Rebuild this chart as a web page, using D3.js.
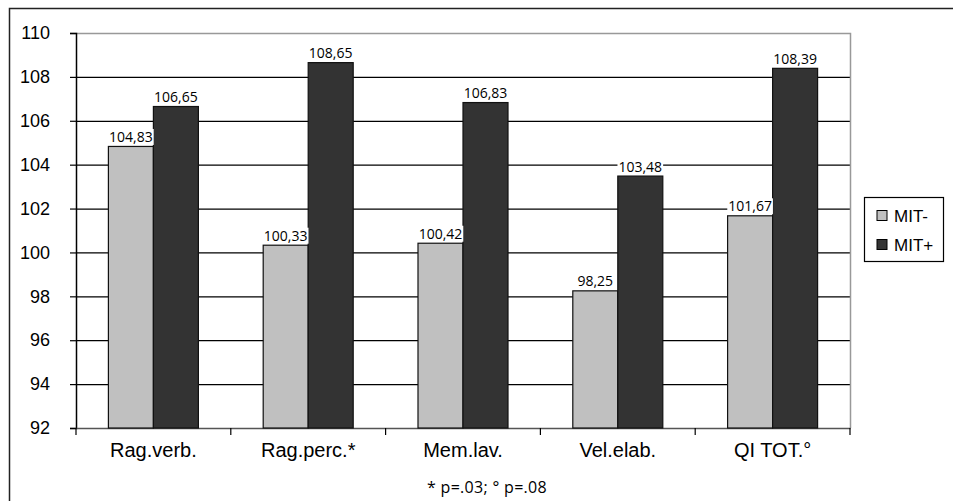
<!DOCTYPE html>
<html><head><meta charset="utf-8">
<script src="https://cdn.jsdelivr.net/npm/d3@7/dist/d3.min.js"></script>
<style>body{margin:0;background:#fff}svg{display:block}</style>
</head><body>
<script>
const categories = ["Rag.verb.", "Rag.perc.*", "Mem.lav.", "Vel.elab.", "QI TOT.°"];
const seriesNames = ["MIT-", "MIT+"];
const mitMinus = [104.83, 100.33, 100.42, 98.25, 101.67];
const mitPlus = [106.65, 108.65, 106.83, 103.48, 108.39];
const yTicks = [92, 94, 96, 98, 100, 102, 104, 106, 108, 110];
const colors = ["#c0c0c0", "#333333"];
const footnote = "* p=.03; ° p=.08";

(function () {
const W = 953, H = 501;
const svg = d3.select("body").append("svg").attr("width", W).attr("height", H);
svg.append("rect").attr("x", 9.5).attr("y", 8.5).attr("width", 960).attr("height", 520)
  .attr("fill", "#fff").attr("stroke", "#222").attr("stroke-width", 1.5);

const pl = 76, pr = 850, pt = 33, pb = 428;
const x = d3.scaleBand().domain(categories).range([pl, pr]);
const y = d3.scaleLinear().domain([92, 110]).range([pb, pt]);
const barW = 45;
const arial = "Liberation Sans, Arial, sans-serif";

svg.append("g").selectAll("line").data(yTicks.filter(t => t > 92 && t < 110)).join("line")
  .attr("x1", pl).attr("x2", pr).attr("y1", d => y(d) + 0.5).attr("y2", d => y(d) + 0.5)
  .attr("stroke", "#000").attr("stroke-width", 1.2);
svg.append("path").attr("d", `M${pl},${pt + 0.5}H${pr + 0.5}V${pb}`)
  .attr("fill", "none").attr("stroke", "#999").attr("stroke-width", 1.5);

const yAxis = svg.append("g").attr("transform", `translate(${pl},0)`)
  .call(d3.axisLeft(y).tickValues(yTicks).tickSize(6).tickPadding(20).tickFormat(d3.format("d")));
yAxis.select(".domain").attr("stroke", "#000").attr("stroke-width", 1.5);
yAxis.selectAll(".tick line").attr("stroke", "#000").attr("stroke-width", 1.2);
yAxis.selectAll("text").attr("font-family", arial).attr("font-size", 18).attr("fill", "#000");

const xAxis = svg.append("g").attr("transform", `translate(0,${pb})`)
  .call(d3.axisBottom(x).tickSize(0).tickPadding(14.5));
xAxis.select(".domain").attr("stroke", "#555").attr("stroke-width", 1.5);
xAxis.selectAll(".tick text").attr("font-family", arial).attr("font-size", 20).attr("fill", "#000");
const edges = categories.map(c => x(c)).concat([x.range()[1]]);
svg.append("g").selectAll("line").data(edges).join("line")
  .attr("x1", d => d).attr("x2", d => d)
  .attr("y1", pb).attr("y2", pb + 7).attr("stroke", "#000").attr("stroke-width", 1.2);

const series = [mitMinus, mitPlus];
const labelFont = "Open Sans, Noto Sans, sans-serif";
series.forEach((vals, si) => {
  vals.forEach((v, i) => {
    const bx = x(categories[i]) + x.bandwidth() / 2 - barW + si * barW;
    svg.append("rect").attr("x", bx).attr("y", y(v)).attr("width", barW).attr("height", pb - y(v))
      .attr("fill", colors[si]).attr("stroke", "#111").attr("stroke-width", 1.2);
  });
});
series.forEach((vals, si) => {
  vals.forEach((v, i) => {
    const cx = x(categories[i]) + x.bandwidth() / 2 - barW / 2 + si * barW;
    const txt = d3.format(".2f")(v).replace(".", ",");
    const t = svg.append("text").attr("x", cx).attr("y", y(v) - 4.5).attr("text-anchor", "middle")
      .attr("font-family", labelFont).attr("font-size", 14).attr("fill", "#000").text(txt);
    const bb = t.node().getBBox();
    svg.insert("rect", () => t.node()).attr("x", bb.x - 1).attr("y", bb.y + 2).attr("width", bb.width + 2).attr("height", bb.height - 3).attr("fill", "#fff");
  });
});

const lg = svg.append("g");
lg.append("rect").attr("x", 864.5).attr("y", 197.5).attr("width", 79).attr("height", 64)
  .attr("fill", "#fff").attr("stroke", "#000").attr("stroke-width", 1.2);
seriesNames.forEach((n, i) => {
  lg.append("rect").attr("x", 877).attr("y", 210.5 + i * 29).attr("width", 10).attr("height", 10)
    .attr("fill", colors[i]).attr("stroke", "#000").attr("stroke-width", 1);
  lg.append("text").attr("x", 894).attr("y", 221.5 + i * 29).attr("font-family", arial)
    .attr("font-size", 17).attr("fill", "#000").text(n);
});

svg.append("text").attr("x", 487).attr("y", 493).attr("text-anchor", "middle")
  .attr("font-family", labelFont).attr("font-size", 16).attr("letter-spacing", 0.3).attr("fill", "#000").text(footnote);
})();
</script>
</body></html>
